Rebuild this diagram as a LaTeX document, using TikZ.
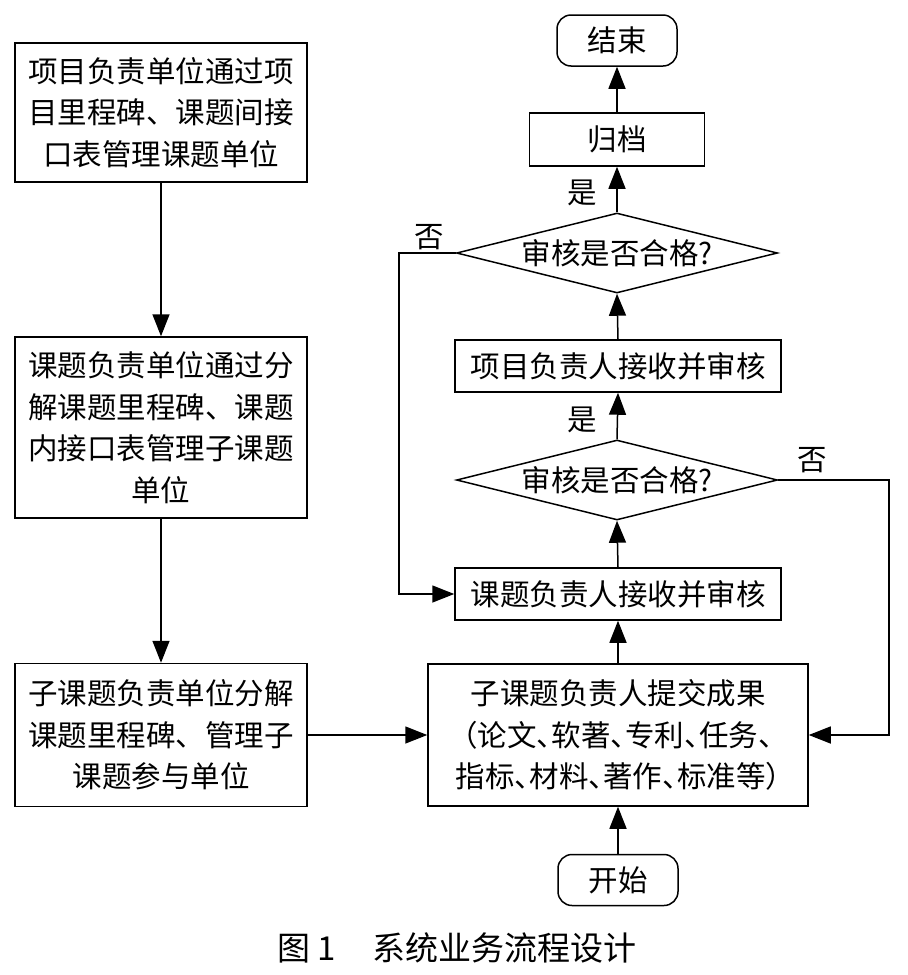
\documentclass[tikz,border=0pt]{standalone}
\usepackage{fontspec}
\setmainfont{Noto Sans CJK SC}
\usetikzlibrary{shapes.geometric,arrows.meta}
\begin{document}
\begin{tikzpicture}[x=1pt,y=-1pt,
  box/.style={draw,line width=1.5pt,inner sep=0pt,align=center,font=\fontsize{29.5}{41.5}\selectfont},
  term/.style={box,rounded corners=14pt},
  dec/.style={draw,line width=1.5pt,diamond,aspect=4,inner sep=0pt,minimum width=321pt,minimum height=80pt,font=\fontsize{29.5}{35}\selectfont},
  arr/.style={line width=1.5pt,-{Triangle[length=22pt,width=17pt]}},
  lbl/.style={font=\fontsize{29.5}{35}\selectfont,inner sep=0pt}]
\useasboundingbox (0,0) rectangle (908,975);
% left column
\node[box,minimum width=292pt,minimum height=139pt] (b1) at (161,112.5)
  {项目负责单位通过项\\目里程碑、课题间接\\口表管理课题单位};
\node[box,minimum width=292pt,minimum height=181pt] (b2) at (161,427.5)
  {课题负责单位通过分\\解课题里程碑、课题\\内接口表管理子课题\\单位};
\node[box,minimum width=292pt,minimum height=143pt] (b3) at (161,735)
  {子课题负责单位分解\\课题里程碑、管理子\\课题参与单位};
% right column
\node[term,minimum width=120pt,minimum height=51pt] (end) at (617,40.5) {结束};
\node[box,minimum width=175pt,minimum height=53pt] (gd) at (617,139.5) {归档};
\node[dec] (d1) at (617,253) {审核是否合格?};
\node[box,minimum width=326pt,minimum height=52pt] (xm) at (618,366) {项目负责人接收并审核};
\node[dec] (d2) at (617,480) {审核是否合格?};
\node[box,minimum width=326pt,minimum height=52pt] (kt) at (618,594) {课题负责人接收并审核};
\node[box,minimum width=380pt,minimum height=142pt] (sub) at (618,735)
  {子课题负责人提交成果\\{\addfontfeatures{RawFeature=+halt}（论文、软著、专利、任务、}\\{\addfontfeatures{RawFeature=+halt}指标、材料、著作、标准等）}};
\node[term,minimum width=120pt,minimum height=51pt] (start) at (618,880) {开始};
% labels
\node[lbl] (y1) at (582,193) {是};
\node[lbl] (y2) at (582,420) {是};
\node[lbl] (n1) at (429,237) {否};
\node[lbl] (n2) at (812,460) {否};
\node[font=\fontsize{33}{38}\selectfont,inner sep=0pt] (cap) at (457,948) {图 1\hspace{1.1em}系统业务流程设计};
% loop coordinates
\coordinate (lx) at (399,253);
\coordinate (rx) at (889,480);
% connectors
\draw[arr] (b1.south) -- (b2.north);
\draw[arr] (b2.south) -- (b3.north);
\draw[arr] (b3.east) -- (sub.west);
\draw[arr] (start.north) -- (sub.south);
\draw[arr] (sub.north) -- (kt.south);
\draw[arr] (kt.north) -- (d2.south);
\draw[arr] (d2.north) -- (xm.south);
\draw[arr] (xm.north) -- (d1.south);
\draw[arr] (d1.north) -- (gd.south);
\draw[arr] (gd.north) -- (end.south);
\draw[arr] (d1.west) -- (lx) |- (kt.west);
\draw[arr] (d2.east) -- (rx) |- (sub.east);
\end{tikzpicture}
\end{document}
